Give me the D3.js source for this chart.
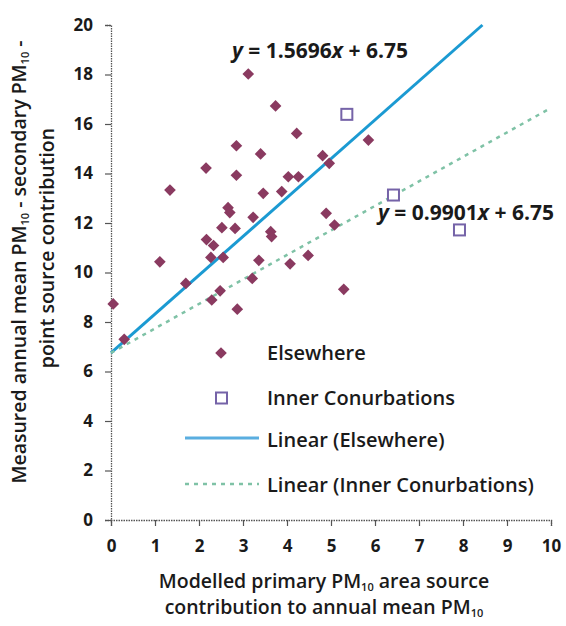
<!DOCTYPE html>
<html><head><meta charset="utf-8">
<script src="https://cdn.jsdelivr.net/npm/d3@7/dist/d3.min.js"></script>
<style>body{margin:0;background:#fff}svg{display:block}text{font-family:"Open Sans",sans-serif}</style>
</head><body><svg id="c" width="566" height="626"></svg>
<script>
const elsewhereX = [0.05,0.30,1.11,1.34,1.70,2.16,2.17,2.33,2.27,2.55,2.29,2.48,2.52,2.82,2.66,2.70,2.85,2.85,2.87,3.12,3.23,3.21,3.36,3.40,3.46,3.63,3.65,3.74,3.88,4.03,4.07,4.22,4.26,4.48,4.81,4.96,4.89,5.08,5.29,5.85];
const elsewhereY = [8.73,7.30,10.43,13.33,9.56,14.22,11.33,11.09,10.61,10.61,8.89,9.26,11.81,11.78,12.62,12.42,15.12,13.93,8.52,18.02,12.23,9.76,10.49,14.79,13.2,11.65,11.45,16.73,13.27,13.87,10.35,15.62,13.87,10.69,14.72,14.41,12.39,11.92,9.32,15.35];
const innerX = [5.36,6.42,7.92];
const innerY = [16.39,13.13,11.72];
const fitElsewhere = {slope:1.5696, intercept:6.75};
const fitInner = {slope:0.9901, intercept:6.75};
const xTicks = [0,1,2,3,4,5,6,7,8,9,10];
const yTicks = [0,2,4,6,8,10,12,14,16,18,20];
const legendLabels = ["Elsewhere","Inner Conurbations","Linear (Elsewhere)","Linear (Inner Conurbations)"];

const svg = d3.select("#c");
const x = d3.scaleLinear().domain([0,10]).range([111,551]);
const y = d3.scaleLinear().domain([0,20]).range([520,25]);
const axisCol = "#555", txt = "#1a1a1a";
const FS = "20px", TS = "19.5px", SUB = "11px";

// axes
const gx = svg.append("g").attr("transform","translate(0,520)")
  .call(d3.axisBottom(x).tickValues(xTicks).tickSize(6).tickPadding(14).tickFormat(d3.format("d")));
const gy = svg.append("g").attr("transform","translate(111,0)")
  .call(d3.axisLeft(y).tickValues(yTicks).tickSize(6).tickPadding(12).tickFormat(d3.format("d")));
[gx,gy].forEach(g=>{
  g.select(".domain").attr("stroke",axisCol).attr("stroke-width",1.3).attr("stroke-dasharray","1.5,1");
  g.selectAll(".tick line").attr("stroke",axisCol).attr("stroke-width",1.2);
  g.selectAll(".tick text").attr("fill",txt).style("font-size","17px").style("font-weight","700").style("font-family","'Open Sans',sans-serif");
});

// fit lines
svg.append("line")
  .attr("x1",x(0)).attr("y1",y(fitElsewhere.intercept))
  .attr("x2",x((20-fitElsewhere.intercept)/fitElsewhere.slope)).attr("y2",y(20))
  .attr("stroke","#1b9ad2").attr("stroke-width",3);
svg.append("line")
  .attr("x1",x(0)).attr("y1",y(fitInner.intercept))
  .attr("x2",x(10)).attr("y2",y(fitInner.intercept+fitInner.slope*10))
  .attr("stroke","#7fc2a6").attr("stroke-width",2.5).attr("stroke-dasharray","4,5");

// points
const diamond = d3.symbol().type(d3.symbolSquare).size(68);
svg.append("g").selectAll("path").data(elsewhereX.map((v,i)=>[v,elsewhereY[i]])).join("path")
  .attr("d",diamond).attr("transform",d=>`translate(${x(d[0])},${y(d[1])}) rotate(45)`)
  .attr("fill","#8a3a60");
svg.append("g").selectAll("rect").data(innerX.map((v,i)=>[v,innerY[i]])).join("rect")
  .attr("x",d=>x(d[0])-5.5).attr("y",d=>y(d[1])-5.5).attr("width",11).attr("height",11)
  .attr("fill","#fff").attr("stroke","#7563a8").attr("stroke-width",2);

// equations
function eq(tx,ty,slope){
  const t = svg.append("text").attr("x",tx).attr("y",ty).attr("fill",txt)
    .style("font-size","21px").style("font-weight","700");
  t.append("tspan").attr("font-style","italic").text("y");
  t.append("tspan").text(` = ${slope}`);
  t.append("tspan").attr("font-style","italic").text("x");
  t.append("tspan").text(" + 6.75");
}
eq(232,58,"1.5696");
eq(378,220,"0.9901");

// legend
const lg = svg.append("g");
const lx = 267, ly = [353,398,440,485];
lg.append("path").attr("d",diamond).attr("transform",`translate(221,${ly[0]}) rotate(45)`).attr("fill","#8a3a60");
lg.append("rect").attr("x",216).attr("y",ly[1]-5.5).attr("width",11).attr("height",11).attr("fill","#fff").attr("stroke","#7563a8").attr("stroke-width",2);
lg.append("line").attr("x1",185).attr("x2",259).attr("y1",ly[2]-2).attr("y2",ly[2]-2).attr("stroke","#5aaee0").attr("stroke-width",3);
lg.append("line").attr("x1",185).attr("x2",259).attr("y1",ly[3]-1).attr("y2",ly[3]-1).attr("stroke","#7fc2a6").attr("stroke-width",2.5).attr("stroke-dasharray","4,5");
legendLabels.forEach((l,i)=>{
  lg.append("text").attr("x",lx).attr("y",ly[i]).attr("dy","0.35em").attr("fill",txt)
    .style("font-size",FS).style("font-weight","600").text(l);
});

// axis titles
function sub(t,main,s,rest){
  t.append("tspan").text(main);
  t.append("tspan").attr("dy",2.5).style("font-size",SUB).text(s);
  t.append("tspan").attr("dy",-2.5).text(rest);
}
let t1 = svg.append("text").attr("x",324).attr("y",588).attr("text-anchor","middle").attr("fill",txt).style("font-size",TS).style("font-weight","600");
sub(t1,"Modelled primary PM","10"," area source");
let t2 = svg.append("text").attr("x",324).attr("y",614).attr("text-anchor","middle").attr("fill",txt).style("font-size",TS).style("font-weight","600");
sub(t2,"contribution to annual mean PM","10","");
let t3 = svg.append("text").attr("transform","translate(26,262) rotate(-90)").attr("text-anchor","middle").attr("fill",txt).style("font-size",TS).style("font-weight","600");
sub(t3,"Measured annual mean PM","10"," - secondary PM");
t3.append("tspan").attr("dy",2.5).style("font-size",SUB).text("10");
t3.append("tspan").attr("dy",-2.5).text(" -");
let t4 = svg.append("text").attr("transform","translate(54,248) rotate(-90)").attr("text-anchor","middle").attr("fill",txt).style("font-size",TS).style("font-weight","600");
t4.text("point source contribution");
</script></body></html>
